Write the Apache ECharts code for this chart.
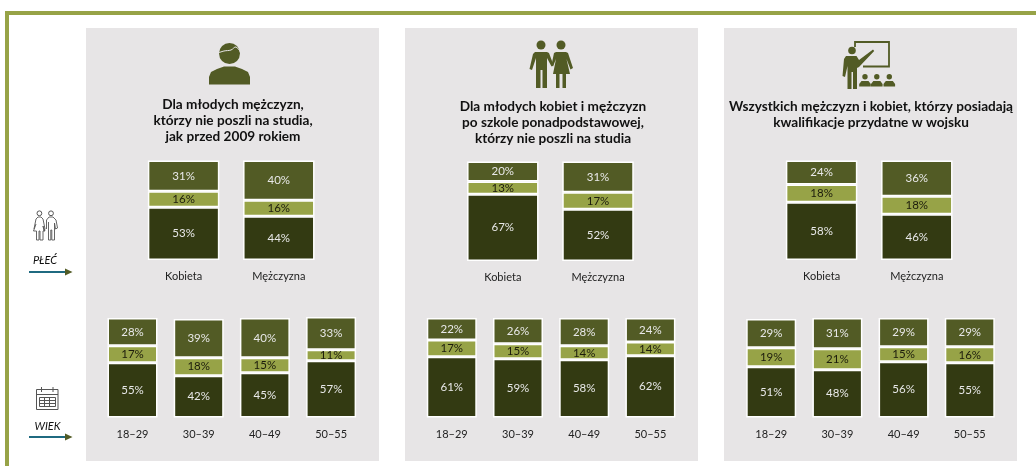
<!DOCTYPE html>
<html><head><meta charset="utf-8">
<style>html,body{margin:0;padding:0;background:#fff}#c{width:1036px;height:466px}</style>
<script src="https://cdn.jsdelivr.net/npm/echarts@6/dist/echarts.min.js"></script>
</head><body><div id="c"></div>
<script>
var genderCats = ['Kobieta', 'Mężczyzna'];
var ageCats = ['18–29', '30–39', '40–49', '50–55'];
var seriesNames = ['Dolny', 'Środkowy', 'Górny'];

var p1GenderLow = [53, 44], p1GenderMid = [16, 16], p1GenderTop = [31, 40];
var p1AgeLow = [55, 42, 45, 57], p1AgeMid = [17, 18, 15, 11], p1AgeTop = [28, 39, 40, 33];
var p2GenderLow = [67, 52], p2GenderMid = [13, 17], p2GenderTop = [20, 31];
var p2AgeLow = [61, 59, 58, 62], p2AgeMid = [17, 15, 14, 14], p2AgeTop = [22, 26, 28, 24];
var p3GenderLow = [58, 46], p3GenderMid = [18, 18], p3GenderTop = [24, 36];
var p3AgeLow = [51, 48, 56, 55], p3AgeMid = [19, 21, 15, 16], p3AgeTop = [29, 31, 29, 29];

var titles = [
  'Dla młodych mężczyzn,\nktórzy nie poszli na studia,\njak przed 2009 rokiem',
  'Dla młodych kobiet i mężczyzn\npo szkole ponadpodstawowej,\nktórzy nie poszli na studia',
  'Wszystkich mężczyzn i kobiet, którzy posiadają\nkwalifikacje przydatne w wojsku'
];

var FONT = 'Lato, "Noto Sans", sans-serif';
var DARK = '#333a12', MID = '#525b25', LIGHT = '#97a347', PANEL = '#e7e5e6';
var OLIVE = '#525b25', OUT = '#555555';

var layout = [
  {px: 86,  title: [233, 97],  gender: 136,   gTop: 160.5, age: 99.4},
  {px: 405, title: [553, 99],  gender: 455.2, gTop: 161.5, age: 418.7},
  {px: 724, title: [871, 99],  gender: 774,   gTop: 160.5, age: 738.1}
];
var blocks = [
  {p: 0, kind: 'g', low: p1GenderLow, mid: p1GenderMid, top: p1GenderTop},
  {p: 0, kind: 'a', low: p1AgeLow, mid: p1AgeMid, top: p1AgeTop},
  {p: 1, kind: 'g', low: p2GenderLow, mid: p2GenderMid, top: p2GenderTop},
  {p: 1, kind: 'a', low: p2AgeLow, mid: p2AgeMid, top: p2AgeTop},
  {p: 2, kind: 'g', low: p3GenderLow, mid: p3GenderMid, top: p3GenderTop},
  {p: 2, kind: 'a', low: p3AgeLow, mid: p3AgeMid, top: p3AgeTop}
];

var grids = [], xAxes = [], yAxes = [], series = [];
blocks.forEach(function (b, i) {
  var g = b.kind === 'g';
  grids.push({left: g ? layout[b.p].gender : layout[b.p].age, width: g ? 190.4 : 264.8,
              top: g ? layout[b.p].gTop : 318, height: g ? 99.5 : 99.5, containLabel: false});
  xAxes.push({type: 'category', gridIndex: i, data: g ? genderCats : ageCats,
    axisLine: {show: false}, axisTick: {show: false}, splitLine: {show: false},
    axisLabel: {color: '#222', fontFamily: FONT, fontSize: 11, margin: 11}});
  yAxes.push({type: 'value', gridIndex: i, min: 0, max: 100, show: false});
  [[b.low, DARK, '#e8e8e8'], [b.mid, LIGHT, '#1c1c0c'], [b.top, MID, '#e8e8e8']].forEach(function (s, k) {
    series.push({
      name: seriesNames[k], type: 'bar', stack: 'b' + i, xAxisIndex: i, yAxisIndex: i,
      data: s[0], barWidth: g ? 71.5 : 50, clip: false, silent: true,
      itemStyle: {color: s[1], borderColor: '#fff', borderWidth: 1.5},
      label: {show: true, position: 'inside', formatter: '{c}%', color: s[2], fontFamily: FONT, fontSize: 11.5}
    });
  });
});

function poly(pts, fill) { return {type: 'polygon', silent: true, shape: {points: pts}, style: {fill: fill}}; }
function line(pts, col, w, smooth) { return {type: 'polyline', silent: true, shape: {points: pts, smooth: smooth || 0}, style: {stroke: col, lineWidth: w, fill: null}}; }
function circ(x, y, r, fill) { return {type: 'circle', silent: true, shape: {cx: x, cy: y, r: r}, style: {fill: fill}}; }
function ring(x, y, r, col) { return {type: 'circle', silent: true, shape: {cx: x, cy: y, r: r}, style: {fill: 'none', stroke: col, lineWidth: 1}}; }
function rect(x, y, w, h, fill) { return {type: 'rect', silent: true, shape: {x: x, y: y, width: w, height: h}, style: {fill: fill}}; }
function label(x, y, t, st) {
  return {type: 'text', silent: true, x: x, y: y, style: Object.assign({text: t, fontFamily: FONT, fill: '#111', align: 'center', verticalAlign: 'middle'}, st)};
}

var g = [];
g.push(rect(5, 11, 1031, 4, LIGHT), rect(5, 11, 4, 455, LIGHT));
layout.forEach(function (l, i) {
  g.push(rect(l.px, 28, 293, 433, PANEL));
  g.push({type: 'text', silent: true, x: l.title[0], y: l.title[1], style: {
    text: titles[i], fontFamily: FONT, fontWeight: 'bold', fontSize: 13.6, lineHeight: 16, fill: '#111', align: 'center', verticalAlign: 'top'}});
});

// Icon: man (panel 1)
g.push(circ(229.5, 53.5, 10.5, OLIVE));
g.push(line([[218, 53], [224, 51], [231, 50], [236, 47], [241, 53]], PANEL, 1, 0.4));
g.push(poly([[209, 84.5], [209, 77], [211, 72], [217, 69], [224, 66.5], [235, 66.5], [242, 69], [248, 72], [250, 77], [250, 84.5]], OLIVE));

// Icon: couple (panel 2)
g.push(circ(541, 45, 4.5, OLIVE), circ(561, 45, 4.5, OLIVE));
g.push(poly([[535, 52], [547, 52], [549, 53], [553.5, 65], [551.5, 66.5], [547, 58], [547, 88], [542.5, 88], [542.5, 70], [540.5, 70], [540.5, 88], [536, 88], [536, 58], [532, 70], [529.5, 69], [533, 54]], OLIVE));
g.push(poly([[556, 52], [566, 52], [568, 53], [573, 68], [570.5, 69.5], [566.5, 59], [570, 74], [566, 74], [566, 88], [562.5, 88], [562.5, 74], [559.5, 74], [559.5, 88], [556, 88], [556, 74], [553, 74], [556, 59], [553, 66.5], [551.5, 65], [554, 53]], OLIVE));

// Icon: presenter (panel 3)
g.push(line([[855, 47], [855, 42], [889, 42], [889, 66.5], [863, 66.5]], OLIVE, 1.8));
g.push(circ(852, 50.5, 3.8, OLIVE));
g.push(poly([[846, 56], [856.5, 56], [859, 60], [873, 49.5], [874.2, 51], [859, 67], [857, 68], [857, 89], [853, 89], [853, 72], [851.5, 72], [851.5, 89], [847.5, 89], [847.5, 66], [845, 77], [842.5, 76], [844, 59]], OLIVE));
[865, 876.8, 889.3].forEach(function (x) {
  g.push(circ(x, 76.8, 2.7, OLIVE));
  g.push(poly([[x - 5.8, 86.5], [x - 5.8, 84], [x - 3.5, 81], [x + 3.5, 81], [x + 5.8, 84], [x + 5.8, 86.5]], OLIVE));
});

// Icon: gender outline
g.push(ring(39.4, 213.3, 2.4, OUT), ring(51, 213.3, 2.4, OUT));
g.push(line([[34, 229], [36, 219], [38, 217], [41, 217], [43, 219], [45, 229], [44, 231], [43, 226], [45, 231], [43, 231], [43, 240], [40, 240], [40, 231], [39, 231], [39, 240], [36.5, 240], [36.5, 231], [33.5, 231], [36, 224]], OUT, 0.9));
g.push(line([[46.5, 229], [46.5, 220], [49, 217], [53, 217], [56, 220], [57.5, 228], [55.5, 229], [54.5, 223], [54.5, 240], [51.8, 240], [51.8, 230], [50.8, 230], [50.8, 240], [48.5, 240], [48.5, 222]], OUT, 0.9));

// Icon: calendar outline
g.push({type: 'rect', silent: true, shape: {x: 36.5, y: 389.5, width: 21.5, height: 20}, style: {fill: 'none', stroke: OUT, lineWidth: 1}});
g.push(line([[36.5, 394.5], [58, 394.5]], OUT, 1), line([[41.5, 387], [41.5, 392]], OUT, 1), line([[53, 387], [53, 392]], OUT, 1));
g.push({type: 'rect', silent: true, shape: {x: 39.5, y: 397.5, width: 16, height: 9}, style: {fill: 'none', stroke: OUT, lineWidth: 1}});
g.push(line([[39.5, 400.5], [55.5, 400.5]], OUT, 1), line([[39.5, 403.5], [55.5, 403.5]], OUT, 1));
g.push(line([[44.5, 397.5], [44.5, 406.5]], OUT, 1), line([[49.5, 397.5], [49.5, 406.5]], OUT, 1));

// Row labels and arrows
g.push(label(45, 260, 'PŁEĆ', {fontSize: 11, fontStyle: 'italic'}));
g.push(label(47.5, 426, 'WIEK', {fontSize: 11, fontStyle: 'italic'}));
[272, 437].forEach(function (y) {
  g.push(line([[29, y], [66, y]], '#1f6a80', 2));
  g.push(poly([[65, y - 3.5], [72.5, y], [65, y + 3.5]], OLIVE));
});

var chart = echarts.init(document.getElementById('c'), null, {renderer: 'canvas'});
chart.setOption({
  animation: false, backgroundColor: '#fff', tooltip: {show: false},
  grid: grids, xAxis: xAxes, yAxis: yAxes, series: series,
  graphic: {elements: g.map(function (e) { e.z = e.z || -1; return e; })}
});
</script></body></html>
